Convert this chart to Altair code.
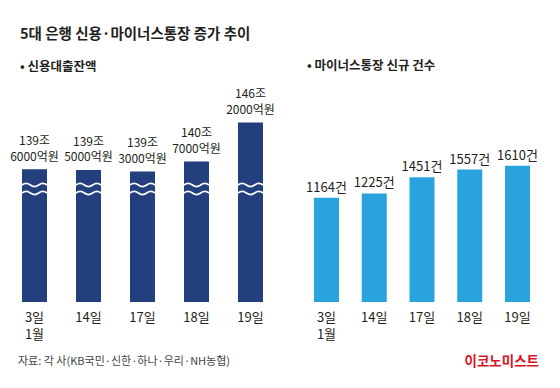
import altair as alt
import pandas as pd

# ---- data ----
days = ["3일", "14일", "17일", "18일", "19일"]
month = ["1월", "", "", "", ""]
loan = [139.6, 139.5, 139.3, 140.7, 146.2]  # 조원
loan_jo = ["139조", "139조", "139조", "140조", "146조"]
loan_eok = ["6000억원", "5000억원", "3000억원", "7000억원", "2000억원"]
counts = [1164, 1225, 1451, 1557, 1610]
count_labels = ["1164건", "1225건", "1451건", "1557건", "1610건"]

title = "5대 은행 신용·마이너스통장 증가 추이"
left_head = "• 신용대출잔액"
right_head = "• 마이너스통장 신규 건수"
source = "자료: 각 사(KB국민·신한·하나·우리·NH농협)"
brand = "이코노미스트"

# ---- style ----
FONT = "Noto Sans CJK KR"
INK = "#231f20"
NAVY = "#233f7e"
SKY = "#29a3de"
RED = "#d7141f"

ldf = pd.DataFrame({"day": days, "mon": month, "v": loan, "jo": loan_jo, "eok": loan_eok})
rdf = pd.DataFrame({"day": days, "mon": month, "v": counts, "lab": count_labels})

xl = alt.X("day:N", axis=None,
           scale=alt.Scale(domain=days, range=[-0.5, 269.5], paddingInner=0, paddingOuter=0))
yl = alt.Y("v:Q", axis=None,
           scale=alt.Scale(domain=[120.9, 146.2], range=[294, 114.4], zero=False, nice=False))
xr = alt.X("day:N", axis=None,
           scale=alt.Scale(domain=days, range=[294.6, 533.4], paddingInner=0, paddingOuter=0))
yr = alt.Y("v:Q", axis=None,
           scale=alt.Scale(domain=[-290, 1610], range=[294, 157.8], zero=False, nice=False))


def wave(y0, a=0.26):
    return (f"M-1,{y0} Q-0.667,{y0 - a} -0.333,{y0} T0.333,{y0} T1,{y0}")


WAVE = wave(-0.32) + " " + wave(0.32)


def txt(df, x, y, field, dy=0, size=13, baseline="bottom"):
    return alt.Chart(df).mark_text(
        baseline=baseline, dy=dy, fontSize=size, font=FONT, color=INK
    ).encode(x=x, y=y, text=f"{field}:N")


left_bars = alt.Chart(ldf).mark_bar(size=25, color=NAVY).encode(
    x=xl, y=yl, y2=alt.datum(120.9))
left_waves = alt.Chart(ldf).mark_point(
    shape=WAVE, size=625, filled=False, stroke="white", strokeWidth=1.6, opacity=1
).encode(x=xl, y=alt.value(181))
left_jo = txt(ldf, xl, yl, "jo", dy=-21, size=12)
left_eok = txt(ldf, xl, yl, "eok", dy=-5.5, size=12)
left_day = txt(ldf, xl, alt.value(313.5), "day", baseline="alphabetic")
left_mon = txt(ldf, xl, alt.value(330.5), "mon", baseline="alphabetic")

right_bars = alt.Chart(rdf).mark_bar(size=25, color=SKY).encode(
    x=xr, y=yr, y2=alt.datum(-290))
right_text = txt(rdf, xr, yr, "lab", dy=-3)
right_day = txt(rdf, xr, alt.value(313.5), "day", baseline="alphabetic")
right_mon = txt(rdf, xr, alt.value(330.5), "mon", baseline="alphabetic")


def label(t, x, y, size, weight="normal", color=INK, align="left"):
    return alt.Chart(pd.DataFrame({"t": [t]})).mark_text(
        align=align, baseline="middle", fontSize=size, fontWeight=weight,
        font=FONT, color=color).encode(x=alt.value(x), y=alt.value(y), text="t:N")


texts = [
    label(title, 12, 27, 14.5, "bold"),
    label(left_head, 12, 59, 12.5, "bold"),
    label(right_head, 299, 58, 12.5, "bold"),
    label(source, 10, 354, 11, color="#444444"),
    label(brand, 531, 354, 13.5, "bold", RED, "right"),
]

chart = alt.layer(
    left_bars, left_waves, left_jo, left_eok, left_day, left_mon,
    right_bars, right_text, right_day, right_mon, *texts
).resolve_scale(x="independent", y="independent").properties(
    width=544, height=372, padding=0,
    autosize=alt.AutoSizeParams(type="none"),
    background="white",
).configure_view(stroke=None)

chart.save("out.html", embed_options={"renderer": "svg", "actions": False})
